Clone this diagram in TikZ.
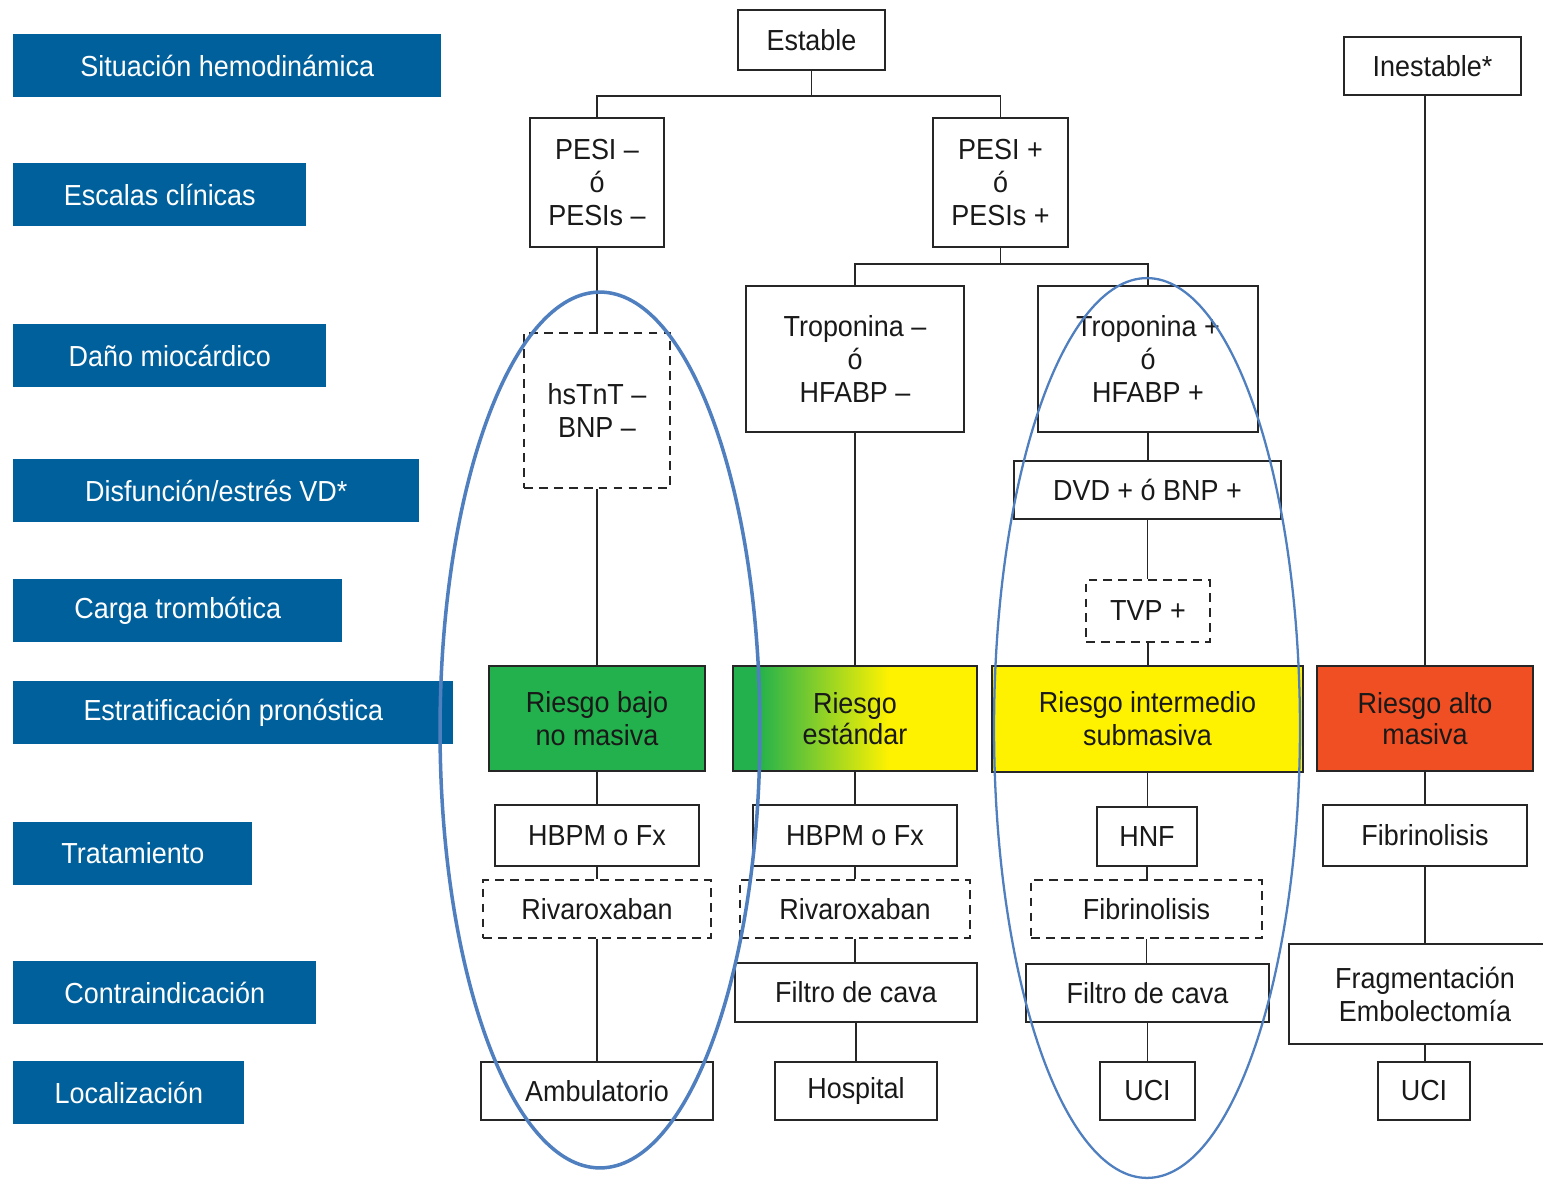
\documentclass[tikz,border=0pt]{standalone}
\usepackage{fontspec}
\setmainfont{Liberation Sans}[FakeStretch=0.93]
\usetikzlibrary{positioning}
\definecolor{labelblue}{HTML}{00609C}
\definecolor{riskgreen}{HTML}{22B14C}
\definecolor{riskyellow}{HTML}{FFF200}
\definecolor{riskred}{HTML}{F04E23}
\definecolor{ringblue}{HTML}{4F7FBE}
\pgfdeclarehorizontalshading{greenyellow}{100bp}{color(0bp)=(riskgreen); color(30bp)=(riskgreen); color(57bp)=(riskyellow); color(100bp)=(riskyellow)}
\tikzset{
  sz/.style 2 args={minimum width=#1*0.02cm, minimum height=#2*0.02cm},
  level/.style={fill=labelblue, text=white, anchor=west, inner sep=0pt, minimum height=1.26cm},
  box/.style={draw=black!85, line width=1pt, inner sep=0pt, align=center, text=black!90},
  dbox/.style={box, dash pattern=on 5pt off 3.5pt},
  link/.style={draw=black!85, line width=1pt},
  ring/.style={draw=ringblue},
}
\begin{document}
\begin{tikzpicture}[x=0.02cm, y=-0.02cm, font=\fontsize{16.5}{18.8}\selectfont]
  \useasboundingbox (0,0) rectangle (1543,1180);
  % levels on the left
  \node[level, minimum width=428*0.02cm] (lvsit)  at (13,65.5)   {Situación hemodinámica};
  \node[level, minimum width=293*0.02cm] (lvesc)  at (13,194.5)  {Escalas clínicas};
  \node[level, minimum width=313*0.02cm] (lvdano) at (13,355.5)  {Daño miocárdico};
  \node[level, minimum width=406*0.02cm] (lvdisf) at (13,490.5)  {Disfunción/estrés VD*};
  \node[level, minimum width=329*0.02cm] (lvcarga) at (13,610.5) {Carga trombótica};
  \node[level, minimum width=440*0.02cm] (lvestr) at (13,712.5)  {Estratificación pronóstica};
  \node[level, minimum width=239*0.02cm] (lvtrat) at (13,853.5)  {Tratamiento};
  \node[level, minimum width=303*0.02cm] (lvcontra) at (13,992.5) {Contraindicación};
  \node[level, minimum width=231*0.02cm] (lvloc)  at (13,1092.5) {Localización};
  % top of the tree
  \node[box, sz={147}{60}]  (estable)   at (811.5,40)   {Estable};
  \node[box, sz={177}{58}]  (inestable) at (1432.5,66)  {Inestable*};
  \node[box, sz={134}{129}] (pesineg)   at (597,182.5)  {PESI –\\ó\\PESIs –};
  \node[box, sz={135}{129}] (pesipos)   at (1000.5,182.5) {PESI +\\ó\\PESIs +};
  \node[box, sz={218}{146}] (tropneg)   at (855,359)    {Troponina –\\ó\\HFABP –};
  \node[box, sz={220}{146}] (troppos)   at (1148,359)   {Troponina +\\ó\\HFABP +};
  \node[dbox, sz={146}{155}] (hstnt)    at (597,410.5)  {hsTnT –\\BNP –};
  \node[box, sz={267}{58}]  (dvd)       at (1147.5,490) {DVD + ó BNP +};
  \node[dbox, sz={124}{62}] (tvp)       at (1148,611)   {TVP +};
  % risk classes
  \node[box, fill=riskgreen, sz={216}{105}]       (bajo)       at (597,718.5)    {Riesgo bajo\\no masiva};
  \node[box, shading=greenyellow, sz={244}{105}]  (estandar)   at (855,718.5)    {\raisebox{-5pt}{\shortstack{Riesgo\\[-1pt]estándar}}};
  \node[box, fill=riskyellow, sz={311}{106}]      (intermedio) at (1147.5,719)   {Riesgo intermedio\\submasiva};
  \node[box, fill=riskred, sz={216}{105}]         (alto)       at (1425,718.5)   {\raisebox{-5pt}{\shortstack{Riesgo alto\\[-1pt]masiva}}};
  % treatment and place
  \node[box, sz={204}{61}]  (hbpmA)    at (597,835.5)  {HBPM o Fx};
  \node[dbox, sz={228}{58}] (rivaA)    at (597,909)    {Rivaroxaban};
  \node[box, sz={232}{58}]  (ambul)    at (597,1091)   {Ambulatorio};
  \node[box, sz={204}{61}]  (hbpmB)    at (855,835.5)  {HBPM o Fx};
  \node[dbox, sz={230}{58}] (rivaB)    at (855,909)    {Rivaroxaban};
  \node[box, sz={242}{59}]  (filtroB)  at (856,992.5)  {Filtro de cava};
  \node[box, sz={162}{58}]  (hospital) at (856,1091)   {Hospital};
  \node[box, sz={100}{59}]  (hnf)      at (1147,836.5) {HNF};
  \node[dbox, sz={231}{58}] (fibriC)   at (1146.5,909) {Fibrinolisis};
  \node[box, sz={243}{58}]  (filtroC)  at (1147.5,993) {Filtro de cava};
  \node[box, sz={95}{58}]   (uciC)     at (1147.5,1091) {UCI};
  \node[box, sz={204}{61}]  (fibriD)   at (1425,835.5) {Fibrinolisis};
  \node[box, sz={272}{100}] (frag)     at (1425,994)   {Fragmentación\\Embolectomía};
  \node[box, sz={92}{58}]   (uciD)     at (1424,1091)  {UCI};
  % connectors
  \draw[link] (estable.south) -- ++(0,25) -| (pesineg.north);
  \draw[link] (estable.south) -- ++(0,25) -| (pesipos.north);
  \draw[link] (pesipos.south) -- ++(0,16) -| (tropneg.north);
  \draw[link] (pesipos.south) -- ++(0,16) -| (troppos.north);
  \draw[link] (alto.north |- inestable.south) -- (alto.north);
  \foreach \a/\b in {pesineg/hstnt, hstnt/bajo, tropneg/estandar, troppos/dvd, dvd/tvp, tvp/intermedio,
      bajo/hbpmA, hbpmA/rivaA, rivaA/ambul,
      estandar/hbpmB, hbpmB/rivaB, rivaB/filtroB, filtroB/hospital,
      intermedio/hnf, hnf/fibriC, fibriC/filtroC, filtroC/uciC,
      alto/fibriD, fibriD/frag, frag/uciD}
    \draw[link] (\a.south) -- (\a.south |- \b.north);
  % highlighted groups
  \draw[ring, line width=2pt] (600,730) ellipse [x radius=3.2cm, y radius=8.76cm];
  \draw[ring, line width=1.3pt] (1147,728) ellipse [x radius=3.06cm, y radius=9cm];
\end{tikzpicture}
\end{document}
